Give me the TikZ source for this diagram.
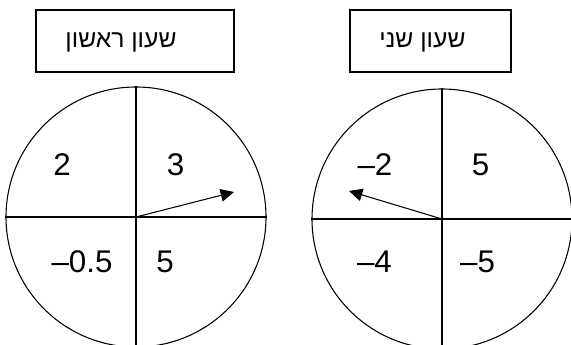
\documentclass[tikz,border=0pt]{standalone}
\usepackage{fontspec}
\setmainfont{Liberation Sans}
\newfontfamily\hebfont[Script=Hebrew]{Liberation Sans}
\TeXXeTstate=1
\usepackage{tikz}
\usetikzlibrary{arrows.meta,positioning}

\begin{document}
\begin{tikzpicture}[
        x=0.75pt, y=-0.75pt,
        every node/.style={font=\fontsize{23.5}{28}\selectfont, anchor=base},
        box/.style={draw, line width=0.8pt, minimum width=148.5pt, minimum height=46.5pt, anchor=center},
        title/.style={font=\hebfont\fontsize{18.5}{22}\selectfont},
        dial/.style={draw, circle, line width=0.8pt, minimum size=195pt, inner sep=0pt, anchor=center},
        hand/.style={-{Triangle[length=10pt,width=9.5pt]}, line width=0.8pt},
    ]
        \useasboundingbox (0,0) rectangle (571,345);

        % --- first clock ---
        \node[box] (title1) at (135,41) {};
        \node[title] (name1) at (121,48) {\beginR שעון ראשון\endR};
        \node[dial] (clock1) at (136,217) {};
        \draw[line width=0.8pt] (clock1.west) -- (clock1.east);
        \draw[line width=0.8pt] (clock1.north) -- (clock1.south);
        \node (a1) at (62,176)  {2};
        \node (b1) at (175.5,176) {3};
        \node (c1) at (82,273)  {–0.5};
        \node (d1) at (165,273) {5};
        \coordinate (tip1) at (234,192);
        \draw[hand] (clock1.center) -- (tip1);

        % --- second clock ---
        \node[box, minimum width=120.75pt] (title2) at (430.5,41) {};
        \node[title] (name2) at (422.5,48) {\beginR שעון שני\endR};
        \node[dial] (clock2) at (442,219) {};
        \draw[line width=0.8pt] (clock2.west) -- (clock2.east);
        \draw[line width=0.8pt] (clock2.north) -- (clock2.south);
        \node (a2) at (375,176) {–2};
        \node (b2) at (480.5,176) {5};
        \node (c2) at (374.5,273) {–4};
        \node (d2) at (477.5,273) {–5};
        \coordinate (tip2) at (349,191);
        \draw[hand] (clock2.center) -- (tip2);

    \end{tikzpicture}
\end{document}
